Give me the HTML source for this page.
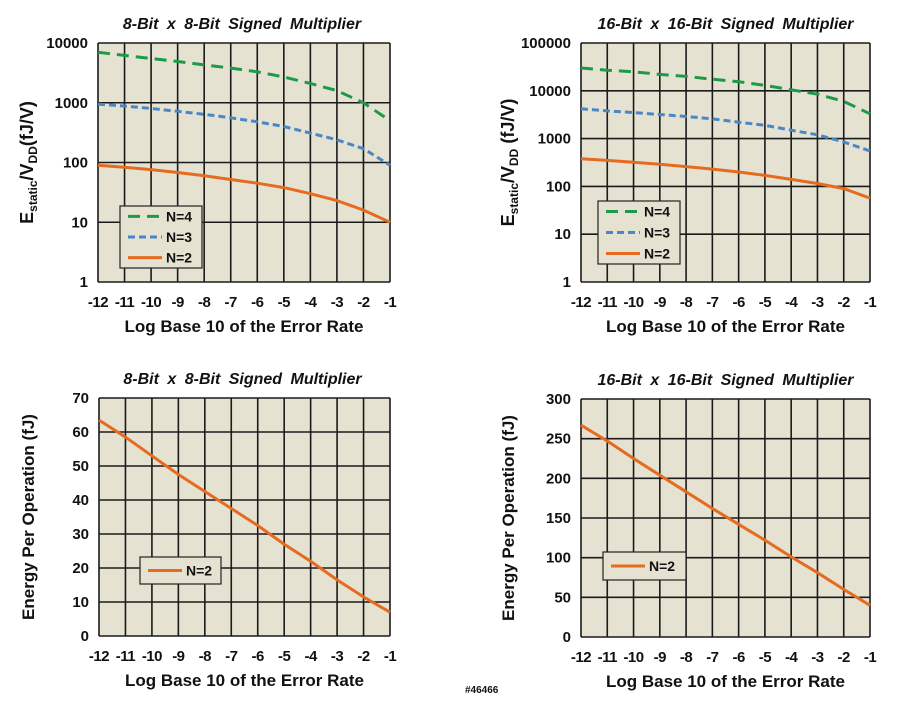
<!DOCTYPE html>
<html><head><meta charset="utf-8"><style>
body{margin:0;background:#fff;width:923px;height:714px;overflow:hidden;font-family:"Liberation Sans",Arial,sans-serif}
svg text{font-family:"Liberation Sans",Arial,sans-serif;font-weight:bold;fill:#111}
</style></head><body>
<svg id="s" width="923" height="714"></svg>
<script>
const xCats=[-12,-11,-10,-9,-8,-7,-6,-5,-4,-3,-2,-1];
const tl_n4=[7000,6200,5500,4900,4300,3800,3300,2700,2100,1600,1000,500];
const tl_n3=[950,880,800,720,640,560,480,400,310,240,170,90];
const tl_n2=[90,83,76,68,60,52,45,38,30,23,16,10];
const tr_n4=[30000,27000,25000,22000,20000,17500,15500,13000,10500,8500,6000,3300];
const tr_n3=[4200,3800,3500,3200,2900,2600,2200,1900,1500,1200,850,550];
const tr_n2=[380,350,320,290,260,230,200,170,140,115,90,57];
const bl_n2=[63.5,58.5,53,47.5,42.5,37.5,32.5,27,22,16.5,11.5,7];
const br_n2=[267,247,225,204,183,162,142,122,101,81,60,40];
const tlTicks=[1,10,100,1000,10000];
const trTicks=[1,10,100,1000,10000,100000];
const blTicks=[0,10,20,30,40,50,60,70];
const brTicks=[0,50,100,150,200,250,300];
const legendLabels=['N=4','N=3','N=2'];

const NS='http://www.w3.org/2000/svg';
const svg=document.getElementById('s');
function mk(tag,attrs,parent){const e=document.createElementNS(NS,tag);for(const k in attrs)e.setAttribute(k,attrs[k]);(parent||svg).appendChild(e);return e;}
const COL={n4:'#1c9a48',n3:'#4a87c6',n2:'#e56b1f'};
const DASH={n4:'12,7',n3:'7,4',n2:''};

function chart(cfg){
  const g=mk('g',{});
  
  
  const {x0,x1,y0,y1,log,ticks}=cfg;
  const xs=v=>x0+(v-xCats[0])/(xCats[xCats.length-1]-xCats[0])*(x1-x0);
  const tmin=ticks[0],tmax=ticks[ticks.length-1];
  const ys=v=>log? y1-(Math.log10(v)-Math.log10(tmin))/(Math.log10(tmax)-Math.log10(tmin))*(y1-y0)
                  : y1-(v-tmin)/(tmax-tmin)*(y1-y0);
  const bg=mk('rect',{x:x0,y:y0,width:x1-x0,height:y1-y0,fill:'#e6e2d2'},g);
  
  xCats.forEach(c=>{const l=mk('line',{x1:xs(c),x2:xs(c),y1:y0,y2:y1,stroke:'#1a1a1a','stroke-width':1.6},g);
    
    const t=mk('text',{x:xs(c),y:y1+25,'text-anchor':'middle','font-size':15,'letter-spacing':-0.5},g);t.textContent=c;
    });
  ticks.forEach(v=>{const l=mk('line',{x1:x0,x2:x1,y1:ys(v),y2:ys(v),stroke:'#1a1a1a','stroke-width':1.6},g);
    
    const t=mk('text',{x:x0-10,y:ys(v)+5,'text-anchor':'end','font-size':15},g);t.textContent=v;
    });
  const tt=mk('text',{x:(x0+x1)/2+cfg.tdx,y:y0-14,'text-anchor':'middle','font-size':16,'font-style':'italic','word-spacing':4},g);
  tt.textContent=cfg.title;
  const xt=mk('text',{x:(x0+x1)/2,y:y1+50,'text-anchor':'middle','font-size':17},g);
  xt.textContent='Log Base 10 of the Error Rate';
  const yt=mk('text',{x:0,y:0,'text-anchor':'middle','font-size':cfg.ytsize,transform:`translate(${cfg.ytx},${(y0+y1)/2}) rotate(-90)`},g);
  yt.innerHTML=cfg.ytitle;
  cfg.series.forEach(s=>{
    const d=s.vals.map((v,i)=>(i?'L':'M')+xs(xCats[i]).toFixed(1)+','+ys(v).toFixed(1)).join(' ');
    const p=mk('path',{d,fill:'none',stroke:COL[s.k],'stroke-width':3,'stroke-dasharray':DASH[s.k]},g);
    
  });
  const L=cfg.legend;
  const lb=mk('rect',{x:L.x,y:L.y,width:L.w,height:L.h,fill:'#e6e2d2',stroke:'#222','stroke-width':1.2},g);
  
  const n=cfg.series.length;
  cfg.series.forEach((s,i)=>{
    const cy=L.y+L.h/(n)*(i+0.5);
    const ll=mk('line',{x1:L.x+8,x2:L.x+42,y1:cy,y2:cy,stroke:COL[s.k],'stroke-width':3,'stroke-dasharray':DASH[s.k]},g);
    
    const lt=mk('text',{x:L.x+46,y:cy+5,'font-size':14},g);lt.textContent=s.label;
    
  });
}
const eyt='E<tspan font-size="12" dy="4">static</tspan><tspan dy="-4">/V</tspan><tspan font-size="12" dy="4">DD</tspan><tspan dy="-4">(fJ/V)</tspan>';
chart({name:'chart-8bit-static',x0:98,x1:390,y0:43,y1:282,log:true,ticks:tlTicks,title:'8-Bit  x  8-Bit  Signed   Multiplier',tdx:-2,
  ytitle:eyt,ytx:33,ytsize:18,legend:{x:120,y:206,w:82,h:62},
  series:[{k:'n4',vals:tl_n4,label:legendLabels[0]},{k:'n3',vals:tl_n3,label:legendLabels[1]},{k:'n2',vals:tl_n2,label:legendLabels[2]}]});
chart({name:'chart-16bit-static',x0:581,x1:870,y0:43,y1:282,log:true,ticks:trTicks,title:'16-Bit  x  16-Bit  Signed   Multiplier',tdx:0,
  ytitle:eyt.replace('(fJ/V)',' (fJ/V)'),ytx:514,ytsize:18,legend:{x:598,y:201,w:82,h:63},
  series:[{k:'n4',vals:tr_n4,label:legendLabels[0]},{k:'n3',vals:tr_n3,label:legendLabels[1]},{k:'n2',vals:tr_n2,label:legendLabels[2]}]});
chart({name:'chart-8bit-energy',x0:99,x1:390,y0:398,y1:636,log:false,ticks:blTicks,title:'8-Bit  x  8-Bit  Signed   Multiplier',tdx:-2,
  ytitle:'Energy Per Operation (fJ)',ytx:34,ytsize:17,legend:{x:140,y:557,w:81,h:27},
  series:[{k:'n2',vals:bl_n2,label:legendLabels[2]}]});
chart({name:'chart-16bit-energy',x0:581,x1:870,y0:399,y1:637,log:false,ticks:brTicks,title:'16-Bit  x  16-Bit  Signed   Multiplier',tdx:0,
  ytitle:'Energy Per Operation (fJ)',ytx:514,ytsize:17,legend:{x:603,y:552,w:83,h:28},
  series:[{k:'n2',vals:br_n2,label:legendLabels[2]}]});
const fid=mk('text',{x:465,y:693,'font-size':10});
fid.textContent='#46466';


</script></body></html>
